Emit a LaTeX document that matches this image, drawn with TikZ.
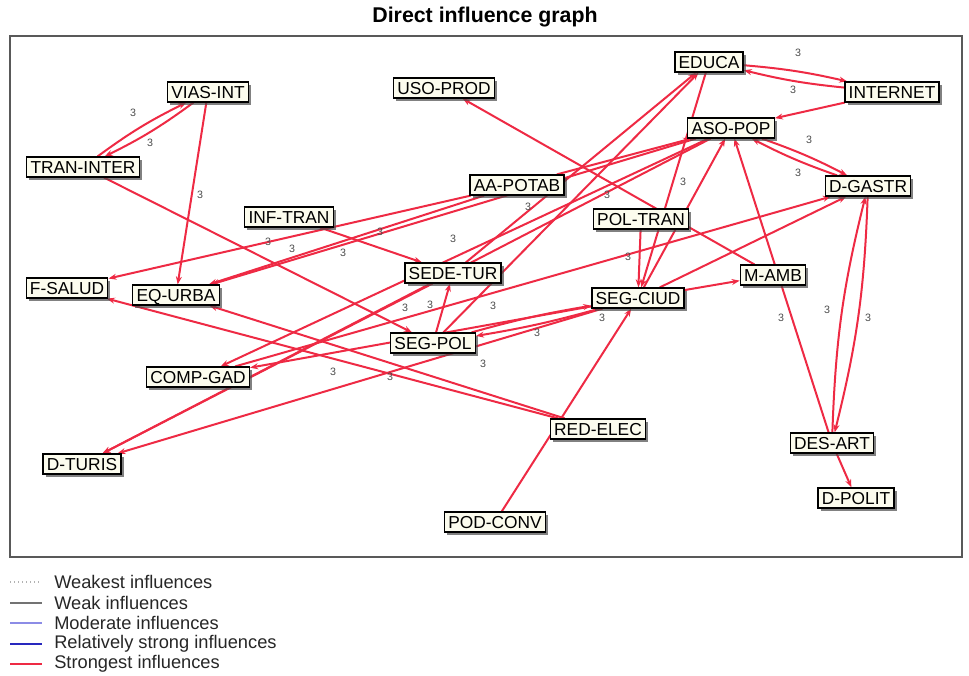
\documentclass[tikz,border=0pt]{standalone}
\usepackage{fontspec}
\setmainfont{Liberation Sans}
\usetikzlibrary{arrows.meta,shadows}
\definecolor{inflred}{RGB}{238,42,68}
\definecolor{boxfill}{RGB}{252,252,238}
\definecolor{modblue}{RGB}{140,140,230}
\definecolor{strongblue}{RGB}{40,40,190}
\pgfdeclarelayer{links}
\pgfsetlayers{links,main}
\begin{document}
\begin{tikzpicture}[x=0.75pt,y=-0.75pt,
  var/.style={draw=black, line width=1pt, fill=boxfill,
    font=\fontsize{13}{15}\selectfont, inner xsep=2.8pt, inner ysep=2.8pt,
    text height=9.3pt, text depth=0pt,
    drop shadow={shadow xshift=2pt, shadow yshift=-2pt, fill=black!70, opacity=0.7}},
  infl/.style={draw=inflred, line width=1.5pt, -{Stealth[length=6pt,width=4.5pt]}},
  val/.style={font=\fontsize{8}{9}\selectfont, text=black!70, inner sep=0pt},
  legtext/.style={font=\fontsize{13.7}{15}\selectfont, anchor=west, inner sep=0pt, text=black!85}
]
\useasboundingbox (0,0) rectangle (969,675);

% title and frame
\node[font=\fontsize{16}{18}\selectfont\bfseries] (title) at (485,17) {Direct influence graph};
\draw[black!65, line width=1.6pt] (10,36) rectangle (962,557);

% variables
\node[var] (viasint)   at (208,92)  {VIAS-INT};
\node[var] (traninter) at (83,167)  {TRAN-INTER};
\node[var] (usoprod)   at (444,88)  {USO-PROD};
\node[var] (educa)     at (709,62)  {EDUCA};
\node[var] (internet)  at (892,92)  {INTERNET};
\node[var] (asopop)    at (731,128) {ASO-POP};
\node[var] (aapotab)   at (517,185) {AA-POTAB};
\node[var] (dgastr)    at (868,186) {D-GASTR};
\node[var] (inftran)   at (289,217) {INF-TRAN};
\node[var] (poltran)   at (641,219) {POL-TRAN};
\node[var] (sedetur)   at (453,273) {SEDE-TUR};
\node[var] (mamb)      at (773,275) {M-AMB};
\node[var] (fsalud)    at (67,288)  {F-SALUD};
\node[var] (equrba)    at (176,295) {EQ-URBA};
\node[var] (segciud)   at (638,298) {SEG-CIUD};
\node[var] (segpol)    at (433,343) {SEG-POL};
\node[var] (compgad)   at (198,377) {COMP-GAD};
\node[var] (redelec)   at (598,429) {RED-ELEC};
\node[var] (desart)    at (832,443) {DES-ART};
\node[var] (dturis)    at (82,464)  {D-TURIS};
\node[var] (dpolit)    at (856,498) {D-POLIT};
\node[var] (podconv)   at (495,522) {POD-CONV};

% influences
\begin{pgfonlayer}{links}
\draw[infl] (viasint) to[bend left=5] (traninter);
\draw[infl] (traninter) to[bend left=5] (viasint);
\draw[infl] (viasint) -- (equrba);
\draw[infl] (traninter) -- (segpol);
\draw[infl] (aapotab) -- (fsalud);
\draw[infl] (aapotab) -- (equrba);
\draw[infl] (aapotab) -- (asopop);
\draw[infl] (asopop) -- (equrba);
\draw[infl] (inftran) -- (sedetur);
\draw[infl] (mamb) -- (usoprod);
\draw[infl] (segpol) -- (educa);
\draw[infl] (sedetur) -- (educa);
\draw[infl] (educa) to[bend left=4] (internet);
\draw[infl] (internet) to[bend left=4] (educa);
\draw[infl] (internet) -- (asopop);
\draw[infl] (asopop) to[bend left=4] (dgastr);
\draw[infl] (dgastr) to[bend left=4] (asopop);
\draw[infl] (educa) -- (segciud);
\draw[infl] (poltran) -- (segciud);
\draw[infl] (segciud) -- (asopop);
\draw[infl] (segciud) -- (mamb);
\draw[infl] (segciud) -- (dgastr);
\draw[infl] (compgad) -- (dgastr);
\draw[infl] (segciud) to[bend left=3] (segpol);
\draw[infl] (segpol) to[bend left=3] (segciud);
\draw[infl] (segciud) -- (dturis);
\draw[infl] (segciud) -- (compgad);
\draw[infl] (segpol) -- (sedetur);
\draw[infl] (redelec) -- (fsalud);
\draw[infl] (redelec) -- (equrba);
\draw[infl] (podconv) -- (segciud);
\draw[infl] (dgastr) to[bend left=6] (desart);
\draw[infl] (desart) to[bend left=6] (dgastr);
\draw[infl] (desart) -- (asopop);
\draw[infl] (desart) -- (dpolit);
\draw[infl] (sedetur) -- (dturis);
\draw[infl] (asopop) -- (dturis);
\draw[infl] (asopop) -- (compgad);
\end{pgfonlayer}

% intensity values
\node[val] (v01) at (133,113) {3};
\node[val] (v02) at (150,143) {3};
\node[val] (v03) at (200,195) {3};
\node[val] (v04) at (268,242) {3};
\node[val] (v05) at (292,249) {3};
\node[val] (v06) at (343,253) {3};
\node[val] (v07) at (380,232) {3};
\node[val] (v08) at (453,239) {3};
\node[val] (v09) at (528,207) {3};
\node[val] (v10) at (607,195) {3};
\node[val] (v11) at (628,257) {3};
\node[val] (v12) at (683,182) {3};
\node[val] (v13) at (798,53)  {3};
\node[val] (v14) at (793,90)  {3};
\node[val] (v15) at (809,140) {3};
\node[val] (v16) at (798,173) {3};
\node[val] (v17) at (405,308) {3};
\node[val] (v18) at (430,305) {3};
\node[val] (v19) at (493,306) {3};
\node[val] (v20) at (602,318) {3};
\node[val] (v21) at (537,333) {3};
\node[val] (v22) at (483,364) {3};
\node[val] (v23) at (333,372) {3};
\node[val] (v24) at (390,377) {3};
\node[val] (v25) at (781,318) {3};
\node[val] (v26) at (827,310) {3};
\node[val] (v27) at (868,318) {3};

% legend
\coordinate (l1a) at (10,582); \coordinate (l1b) at (42,582);
\coordinate (l2a) at (10,603); \coordinate (l2b) at (42,603);
\coordinate (l3a) at (10,623); \coordinate (l3b) at (42,623);
\coordinate (l4a) at (10,644); \coordinate (l4b) at (42,644);
\coordinate (l5a) at (10,664); \coordinate (l5b) at (42,664);
\draw[black!30, line width=1pt, dotted] (l1a) -- (l1b);
\draw[black!55, line width=1.3pt] (l2a) -- (l2b);
\draw[modblue, line width=1.3pt] (l3a) -- (l3b);
\draw[strongblue, line width=1.6pt] (l4a) -- (l4b);
\draw[inflred, line width=1.6pt] (l5a) -- (l5b);
\node[legtext] (t1) at (54,582) {Weakest influences};
\node[legtext] (t2) at (54,603) {Weak influences};
\node[legtext] (t3) at (54,623) {Moderate influences};
\node[legtext] (t4) at (54,644) {Relatively strong influences};
\node[legtext] (t5) at (54,664) {Strongest influences};
\end{tikzpicture}
\end{document}
